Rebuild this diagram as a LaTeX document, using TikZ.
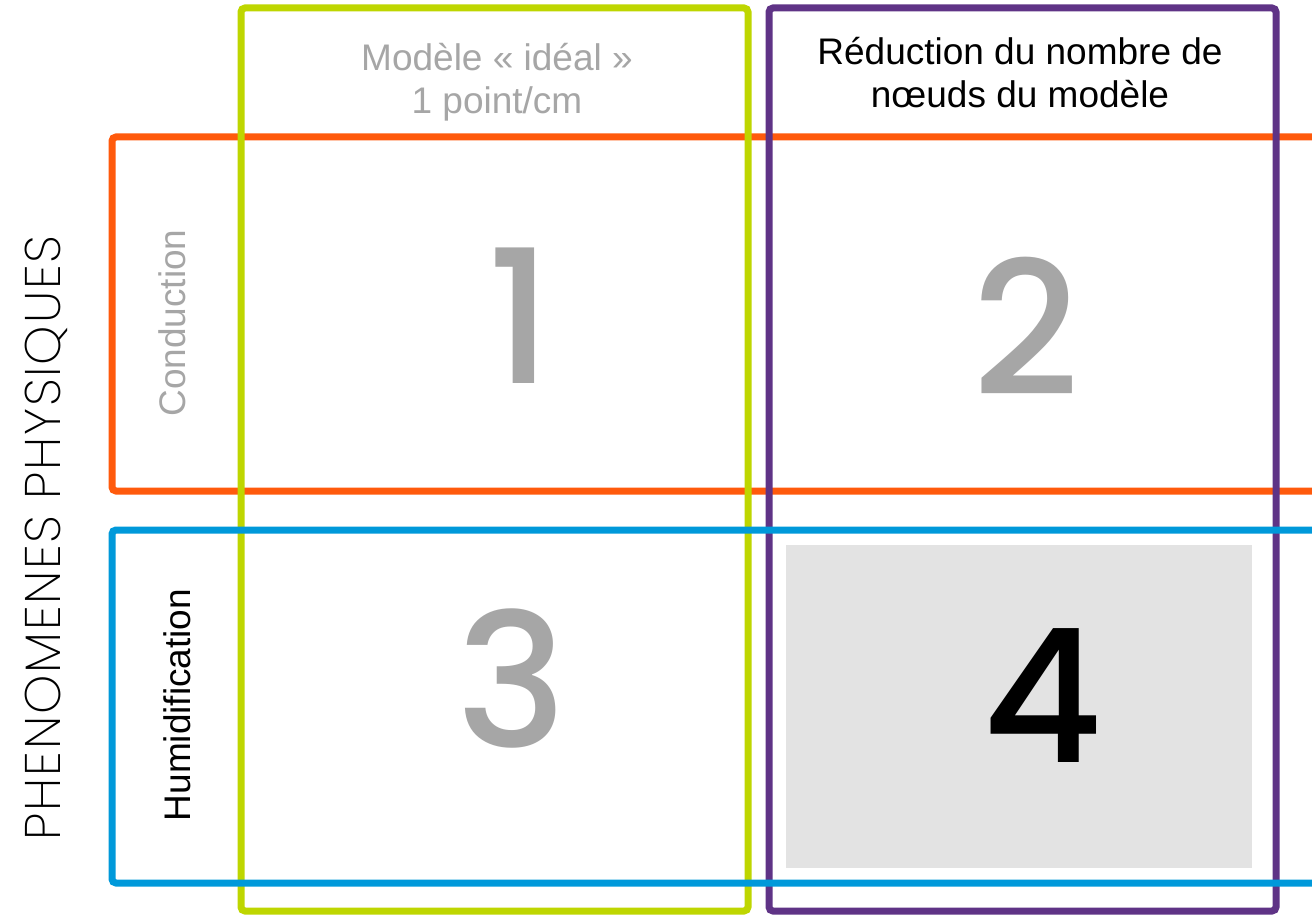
\documentclass[tikz,border=0pt]{standalone}
\usepackage{fontspec}
\setmainfont{Liberation Sans}
\IfFontExistsTF{Poppins ExtraLight}{\newfontfamily\thinfont{Poppins ExtraLight}[LetterSpace=3.5]}{%
  \IfFontExistsTF{Poppins Light}{\newfontfamily\thinfont{Poppins Light}[LetterSpace=3.5]}{%
    \IfFontExistsTF{Lato Light}{\newfontfamily\thinfont{Lato Light}[LetterSpace=3.5]}{\newfontfamily\thinfont{Poppins}[LetterSpace=3.5]}}}
\IfFontExistsTF{Poppins Medium}{\newfontfamily\geofont{Poppins Medium}}{\newfontfamily\geofont{Poppins}}
\definecolor{cOrange}{HTML}{FF5A0C}
\definecolor{cGreen}{HTML}{BED600}
\definecolor{cPurple}{HTML}{5F3386}
\definecolor{cBlue}{HTML}{0099DA}
\definecolor{cCell}{HTML}{E3E3E3}
\definecolor{cGrayText}{HTML}{A6A6A6}
\tikzset{
  frame/.style={line width=7pt, rounded corners=4pt},
  txt/.style={inner sep=0pt, anchor=base, font=\fontsize{37}{42}\selectfont},
  vtxt/.style={txt, rotate=90},
  bignum/.style={inner sep=0pt, anchor=base, font=\geofont\fontsize{186}{186}\selectfont, text=cGrayText},
  bignumB/.style={bignum, text=black},
  axis/.style={inner sep=0pt, anchor=base, rotate=90, font=\thinfont\fontsize{50}{50}\selectfont}
}
\begin{document}
\begin{tikzpicture}[x=1pt,y=-1pt]
\useasboundingbox (0,0) rectangle (1312,915);
\fill[white] (0,0) rectangle (1312,915);
\clip (0,0) rectangle (1312,915);
% shaded cell
\fill[cCell] (786,545) rectangle (1252,868);
% frames
\draw[frame, draw=cOrange] (112,137) rectangle (1345,491);
\draw[frame, draw=cGreen] (241,8) rectangle (748,911);
\draw[frame, draw=cPurple] (769,8) rectangle (1276,911);
\draw[frame, draw=cBlue] (112,530) rectangle (1345,883);
% column headers
\node[txt, text=cGrayText] (hA1) at (497,71) {Modèle « idéal »};
\node[txt, text=cGrayText] (hA2) at (497,114) {1 point/cm};
\node[txt] (hB1) at (1020,65) {Réduction du nombre de};
\node[txt] (hB2) at (1020,108) {nœuds du modèle};
% row headers
\node[vtxt, text=cGrayText] (rA) at (185,323) {Conduction};
\node[vtxt] (rB) at (190,705) {Humidification};
\node[axis] (ax) at (60,538) {PHENOMENES PHYSIQUES};
% cell numbers
\node[bignum] (n1) at (520,383) {1};
\node[bignum] (n2) at (1026,395) {2};
\node[bignum] (n3) at (512,747) {3};
\node[bignumB] (n4) at (1043,762) {4};
\end{tikzpicture}
\end{document}
